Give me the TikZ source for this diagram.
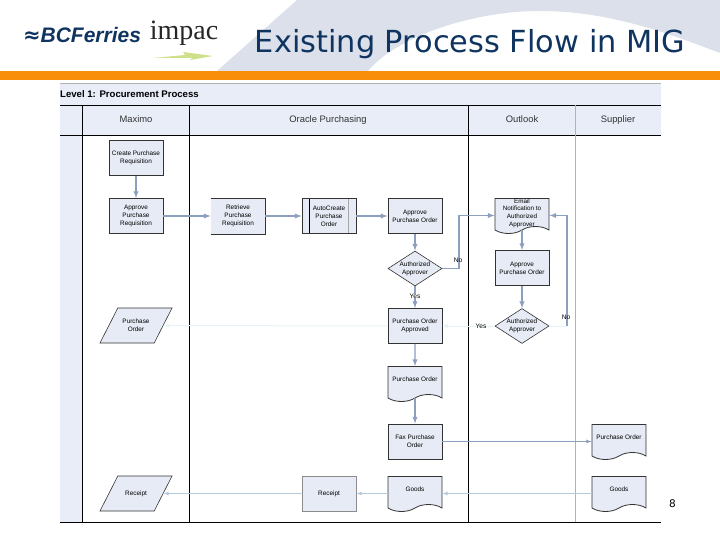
\documentclass[tikz,border=0pt]{standalone}
\usepackage{fontspec}
\setmainfont{Liberation Sans}
\newfontfamily\titlefont{DejaVu Sans}
\newfontfamily\logoserif{Liberation Serif}
\usetikzlibrary{shapes.geometric,shapes.symbols,arrows}

\definecolor{lanefill}{HTML}{E8EDF8}
\definecolor{boxfill}{HTML}{E6EBF5}
\definecolor{flowblue}{HTML}{8C9FBF}
\definecolor{paleflow}{HTML}{E6F3F6}
\definecolor{lightflow}{HTML}{B5C9DC}
\definecolor{titleblue}{HTML}{0F3460}
\definecolor{swooshgray}{HTML}{DBE0EA}
\definecolor{barorange}{HTML}{F98E0B}
\definecolor{arrowgreen}{HTML}{CFE08A}

\newcommand{\datatext}[1]{\parbox[c][35pt][c]{36.4pt}{\centering #1}}

\tikzstyle{procbox} = [draw=black!80, fill=boxfill, thick, rectangle, align=center,
    minimum width=54pt, minimum height=35pt, inner sep=0pt, font=\fontsize{6.4}{8}\selectfont]
\tikzstyle{plainbox} = [procbox, draw=none]
\tikzstyle{subbox} = [procbox, path picture={
    \draw[black, thick] ([xshift=7pt]path picture bounding box.north west) -- ([xshift=7pt]path picture bounding box.south west);
    \draw[black!35] ([xshift=-8pt]path picture bounding box.north east) -- ([xshift=-8pt]path picture bounding box.south east);}]
\tikzstyle{decision} = [procbox, diamond, aspect=1.6, semithick]
\tikzstyle{docbox} = [procbox, tape, tape bend top=none, tape bend bottom=in and out, tape bend height=7pt,
    minimum height=35pt, text depth=2pt]
\tikzstyle{databox} = [draw=black!80, fill=boxfill, semithick, trapezium, trapezium left angle=63, trapezium right angle=117,
    inner sep=0pt, minimum width=0pt, font=\fontsize{6.4}{8}\selectfont]
\tikzstyle{flow} = [draw=flowblue, line width=1.3pt, -latex]
\tikzstyle{thinflow} = [draw=lightflow, line width=0.8pt, -latex]
\tikzstyle{paleflowline} = [draw=paleflow, line width=1pt, -latex]
\tikzstyle{lanehead} = [font=\fontsize{9.4}{11}\selectfont, text=black!80, text height=7pt, text depth=2pt]
\tikzstyle{answer} = [font=\fontsize{6.6}{8}\selectfont, inner sep=0pt]

\begin{document}
\begin{tikzpicture}[x=1pt,y=-1pt]
\useasboundingbox (0,0) rectangle (720,540);

% slide header
\fill[swooshgray] (217,71) -- (297,0) -- (720,0) -- (720,53)
    .. controls (670,34) and (610,11) .. (540,11)
    .. controls (470,11) and (395,38) .. (368,71) -- cycle;
\fill[barorange] (0,71) rectangle (720,80);
\node (title) at (470,44) {\titlefont\fontsize{30.4}{34}\selectfont\color{titleblue}Existing Process Flow in MIG};
\node (bcferries) at (82,35) {\fontsize{21}{24}\selectfont\bfseries\itshape\color{titleblue}{\titlefont\char"2248}BCFerries};
\node (impac) at (184,33) {\logoserif\fontsize{28}{30}\selectfont\color{black!85}impac};
\fill[arrowgreen] (153,58) -- (185,55) -- (183,52) -- (213,56) -- (190,60) -- (192,58) -- cycle;

% swimlanes
\fill[lanefill] (60,83) rectangle (661,135);
\fill[lanefill] (60,135) rectangle (82,522);
\draw[black!30] (60,83) -- (661,83);
\draw[thick] (60,105) -- (661,105);
\draw[thick] (60,135) -- (661,135);
\draw[thick] (60,522) -- (661,522);
\draw[thick] (82,105) -- (82,522);
\draw[thick] (189,105) -- (189,522);
\draw[thick] (468.5,105) -- (468.5,522);
\draw[black!30] (575.5,105) -- (575.5,522);
\node[anchor=west, inner sep=0pt, font=\fontsize{9.6}{11}\selectfont\bfseries] (level) at (60,94) {Level 1: Procurement Process};
\node[lanehead] (maximo) at (136,120) {Maximo};
\node[lanehead] (oracle) at (328,120) {Oracle Purchasing};
\node[lanehead] (outlook) at (522,120) {Outlook};
\node[lanehead] (supplier) at (618,120) {Supplier};

% nodes
\node[procbox] (createreq) at (136,158) {Create Purchase\\Requisition};
\node[procbox] (approvereq) at (136,216) {Approve\\Purchase\\Requisition};
\node[plainbox] (retrieve) at (238,216) {Retrieve\\Purchase\\Requisition};
\node[subbox] (autocreate) at (329,216) {AutoCreate\\Purchase\\Order};
\node[procbox] (approvepo) at (415,216) {Approve\\Purchase Order};
\node[decision] (authone) at (415,268.5) {Authorized\\Approver};
\node[procbox] (poapproved) at (415,326) {Purchase Order\\Approved};
\node[docbox] (podoc) at (415,380.5) {Purchase Order};
\node[procbox] (fax) at (415,441.5) {Fax Purchase\\Order};
\node[docbox] (goods) at (415,490.5) {Goods};
\node[procbox, draw=black!45] (receipt) at (329,493.5) {Receipt};
\node[databox] (popara) at (136,325.5) {\datatext{Purchase\\Order}};
\node[databox] (receiptpara) at (136,493.5) {\datatext{Receipt}};
\node[docbox, text depth=0pt, font=\fontsize{6.3}{7.8}\selectfont] (email) at (522,212.5) {Email\\Notification to\\Authorized\\Approver};
\node[procbox] (approvetwo) at (522,268) {Approve\\Purchase Order};
\node[decision] (authtwo) at (522,326) {Authorized\\Approver};
\node[docbox] (posupplier) at (619,438.5) {Purchase Order};
\node[docbox] (goodssupplier) at (619,490.5) {Goods};
\draw[black!80, thick] (retrieve.north west) -- (retrieve.north east) -- (retrieve.south east) -- (retrieve.south west);

% connectors
\coordinate (nobend) at (459,268.5);
\coordinate (nobendtwo) at (567,326);
\draw[flow] (createreq) -- (approvereq);
\draw[flow] (approvereq) -- (retrieve);
\draw[flow] (retrieve) -- (autocreate);
\draw[flow] (autocreate) -- (approvepo);
\draw[flow] (approvepo) -- (authone);
\draw[flow] (authone) -- (poapproved);
\draw[flow] (authone.east) -- (nobend) |- ([yshift=-3pt]email.west);
\draw[flow] (email) -- (approvetwo);
\draw[flow] (approvetwo) -- (authtwo);
\draw[paleflowline] (authtwo) -- (poapproved);
\draw[paleflowline] (poapproved) -- (popara);
\draw[paleflowline, -] (authtwo.east) -- (nobendtwo);
\draw[flow] (nobendtwo) |- ([yshift=-3pt]email.east);
\draw[flow] (poapproved) -- (podoc);
\draw[flow] (podoc) -- (fax);
\draw[thinflow, draw=flowblue] (fax.east) -- ([yshift=-3pt]posupplier.west);
\draw[thinflow] ([yshift=-3pt]goodssupplier.west) -- ([yshift=-3pt]goods.east);
\draw[thinflow] ([yshift=-3pt]goods.west) -- (receipt);
\draw[thinflow] (receipt) -- (receiptpara);

% answers
\node[answer, fill=white] (yesone) at (415,296) {Yes};
\node[answer] (noone) at (458,260) {No};
\node[answer, fill=white] (yestwo) at (481,326) {Yes};
\node[answer] (notwo) at (566,317) {No};

\node[font=\titlefont\fontsize{10.5}{13}\selectfont] (pagenum) at (672.5,504) {8};
\end{tikzpicture}
\end{document}
